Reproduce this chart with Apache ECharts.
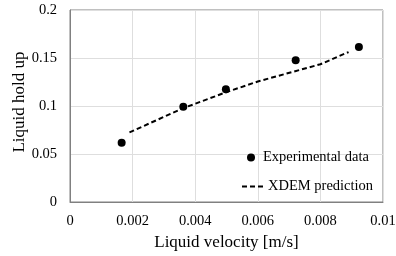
<!DOCTYPE html>
<html><head><meta charset="utf-8">
<script src="https://cdn.jsdelivr.net/npm/echarts@6/dist/echarts.min.js"></script>
<style>html,body{margin:0;padding:0;background:#fff}#c{width:396px;height:256px}</style>
</head><body><div id="c"></div>
<script>
const expX = [0.00165, 0.00362, 0.00498, 0.00721, 0.00923];
const expY = [0.0618, 0.0993, 0.1174, 0.1476, 0.1615];
const predX = [0.0019, 0.0036, 0.0050, 0.0060, 0.0080, 0.0089];
const predY = [0.0725, 0.0975, 0.1145, 0.1255, 0.1435, 0.1562];
const xTicks = [0, 0.002, 0.004, 0.006, 0.008, 0.01];
const yTicks = [0, 0.05, 0.1, 0.15, 0.2];
const font = 'Liberation Serif';
const fmt = ticks => v => { const s = ticks.find(t => Math.abs(t - v) < 1e-9); return String(s !== undefined ? s : v); };
const chart = echarts.init(document.getElementById('c'), null, {renderer:'canvas'});
chart.setOption({
  animation:false,
  backgroundColor:'#fff',
  textStyle:{fontFamily:font},
  grid:{left:70, right:13, top:10, bottom:54, show:true, borderColor:'#808080', borderWidth:1,
    containLabel:false, outerBoundsMode:'none'},
  xAxis:{type:'value', min:0, max:0.01, interval:0.002,
    name:'Liquid velocity [m/s]', nameLocation:'middle', nameGap:32, nameMoveOverlap:false,
    nameTextStyle:{fontFamily:font, fontSize:17, color:'#000'},
    axisLine:{show:true, lineStyle:{color:'#808080'}}, axisTick:{show:false},
    axisLabel:{fontFamily:font, fontSize:14.5, color:'#000', margin:12, formatter:fmt(xTicks)},
    splitLine:{show:true, lineStyle:{color:'#dedede'}}},
  yAxis:{type:'value', min:0, max:0.2, interval:0.05,
    name:'Liquid hold up', nameLocation:'middle', nameGap:42, nameMoveOverlap:false,
    nameTextStyle:{fontFamily:font, fontSize:17, color:'#000', padding:[0,0,0,8]},
    axisLine:{show:true, lineStyle:{color:'#808080'}}, axisTick:{show:false},
    axisLabel:{fontFamily:font, fontSize:14.5, color:'#000', margin:13, formatter:fmt(yTicks)},
    splitLine:{show:true, lineStyle:{color:'#dedede'}}},
  legend:[
    {left:242, top:145, itemWidth:14, itemHeight:8,
      textStyle:{fontFamily:font, fontSize:14.5, color:'#000'},
      data:[{name:'Experimental data', icon:'circle'}]},
    {left:236, top:174, itemWidth:21, itemHeight:8,
      textStyle:{fontFamily:font, fontSize:14.5, color:'#000'},
      data:[{name:'XDEM prediction', itemStyle:{opacity:0}}]}
  ],
  series:[
    {name:'Experimental data', type:'scatter', symbol:'circle', symbolSize:8,
      itemStyle:{color:'#000', opacity:1}, data:expX.map((x,i)=>[x,expY[i]])},
    {name:'XDEM prediction', type:'line', symbol:'none', showSymbol:false,
      lineStyle:{color:'#000', width:2, type:[5,3]}, itemStyle:{color:'#000'},
      data:predX.map((x,i)=>[x,predY[i]])}
  ]
});
</script></body></html>
